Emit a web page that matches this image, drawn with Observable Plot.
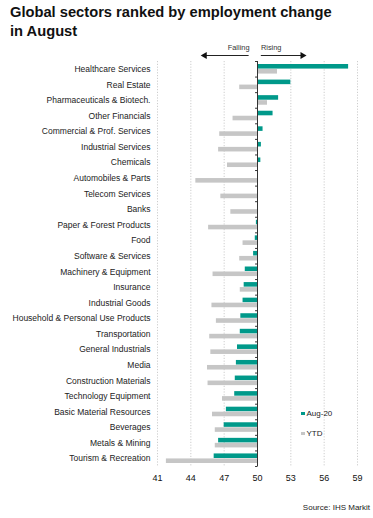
<!DOCTYPE html>
<html>
<head>
<meta charset="utf-8">
<script src="https://cdn.jsdelivr.net/npm/d3@7"></script>
<script src="https://cdn.jsdelivr.net/npm/@observablehq/plot@0.6"></script>
<style>
  html, body { margin: 0; padding: 0; background: #fff; }
  body { width: 373px; height: 518px; position: relative; overflow: hidden;
         font-family: "Liberation Sans", Arial, Helvetica, sans-serif; color: #111; }
  #title { position: absolute; left: 10px; top: 3px; font-weight: bold; font-size: 14.7px; line-height: 18.5px; color: #111; }
  #chart { position: absolute; left: 0; top: 38px; }
  #chart svg { display: block; }
  .leg { position: absolute; font-size: 8px; color: #222; line-height: 10px; }
  .sw { display: inline-block; width: 3.5px; height: 3.5px; margin-right: 2px; vertical-align: 1px; }
  #source { position: absolute; right: 3px; top: 503px; font-size: 8px; color: #222; }
</style>
</head>
<body>
<div id="title">Global sectors ranked by employment change<br>in August</div>
<div id="chart"></div>
<div class="leg" style="left:301px; top:409px;"><span class="sw" style="background:#00998a"></span>Aug-20</div>
<div class="leg" style="left:301px; top:429px;"><span class="sw" style="background:#c6c6c6"></span>YTD</div>
<div id="source">Source: IHS Markit</div>
<script>
const sectors = [
  "Healthcare Services", "Real Estate", "Pharmaceuticals & Biotech.", "Other Financials",
  "Commercial & Prof. Services", "Industrial Services", "Chemicals", "Automobiles & Parts",
  "Telecom Services", "Banks", "Paper & Forest Products", "Food", "Software & Services",
  "Machinery & Equipment", "Insurance", "Industrial Goods", "Household & Personal Use Products",
  "Transportation", "General Industrials", "Media", "Construction Materials",
  "Technology Equipment", "Basic Material Resources", "Beverages", "Metals & Mining",
  "Tourism & Recreation"
];
const aug20 = [58.2, 53.0, 51.9, 51.4, 50.5, 50.35, 50.3, 50.0, 50.0, 50.0, 49.9, 49.8, 49.65,
  48.9, 48.8, 48.7, 48.5, 48.45, 48.2, 48.1, 48.0, 47.95, 47.2, 47.0, 46.5, 46.1];
const ytd = [51.8, 48.4, 50.9, 47.8, 46.6, 46.5, 47.3, 44.45, 46.7, 47.6, 45.6, 48.7, 48.4,
  46.0, 48.45, 45.9, 46.3, 45.7, 45.8, 45.5, 45.55, 46.85, 45.95, 46.2, 46.2, 41.8];
const xTicks = [41, 44, 47, 50, 53, 56, 59];
const baseline = 50;
const directionLabels = ["Falling", "Rising"];

const teal = "#00998a";
const grey = "#c6c6c6";

const rows = sectors.map((s, i) => ({sector: s, aug: aug20[i], ytd: ytd[i]}));
const H = 480, mt = 23, mb = 52;
const bw = (H - mt - mb) / sectors.length;
const first = sectors[0], last = sectors[sectors.length - 1];

const chart = Plot.plot({
  width: 373,
  height: H,
  marginLeft: 157,
  marginRight: 16,
  marginTop: mt,
  marginBottom: mb,
  style: {fontFamily: "'Liberation Sans', Arial, sans-serif", fontSize: "8.5px", color: "#222", background: "transparent", overflow: "visible"},
  x: {domain: [41, 59], axis: null},
  y: {domain: sectors, padding: 0, round: false, axis: null},
  marks: [
    Plot.ruleX(xTicks.filter(t => t !== baseline), {stroke: "#b8b8b8", strokeOpacity: 0.7, strokeDasharray: "1.2,1.6"}),
    Plot.barX(rows, {y: "sector", x1: baseline, x2: "aug", fill: teal, insetTop: 3, insetBottom: 8}),
    Plot.barX(rows, {y: "sector", x1: baseline, x2: "ytd", fill: grey, insetTop: 8, insetBottom: 3}),
    Plot.ruleX([baseline], {stroke: "#333", strokeWidth: 1}),
    Plot.link(rows, {x1: baseline - 0.22, x2: baseline, y1: "sector", y2: "sector", dy: -bw / 2, stroke: "#333"}),
    Plot.link([last], {x1: baseline - 0.22, x2: baseline, y1: d => d, y2: d => d, dy: bw / 2, stroke: "#333"}),
    Plot.axisY({tickSize: 0, tickPadding: 7, fontSize: 8.5, fill: "#222", label: null}),
    Plot.axisX({ticks: xTicks, tickSize: 0, tickPadding: 8, fontSize: 9, fill: "#111", label: null}),
    // direction annotation
    Plot.link([first], {x1: 49.2, x2: 45.3, y1: d => d, y2: d => d, dy: -13.8, stroke: "#222", strokeWidth: 1.2}),
    Plot.link([first], {x1: 50.3, x2: 54.0, y1: d => d, y2: d => d, dy: -13.8, stroke: "#222", strokeWidth: 1.2}),
    Plot.dot([first], {x: 45.25, y: d => d, dy: -13.8, symbol: "triangle", r: 2.6, rotate: -90, fill: "#111"}),
    Plot.dot([first], {x: 54.05, y: d => d, dy: -13.8, symbol: "triangle", r: 2.6, rotate: 90, fill: "#111"}),
    Plot.text([directionLabels[0]], {x: 49.28, y: () => first, dy: -21.8, text: d => d, textAnchor: "end", fontSize: 7.4, fill: "#333"}),
    Plot.text([directionLabels[1]], {x: 50.31, y: () => first, dy: -21.8, text: d => d, textAnchor: "start", fontSize: 7.4, fill: "#333"})
  ]
});
document.getElementById("chart").appendChild(chart);
</script>
</body>
</html>
